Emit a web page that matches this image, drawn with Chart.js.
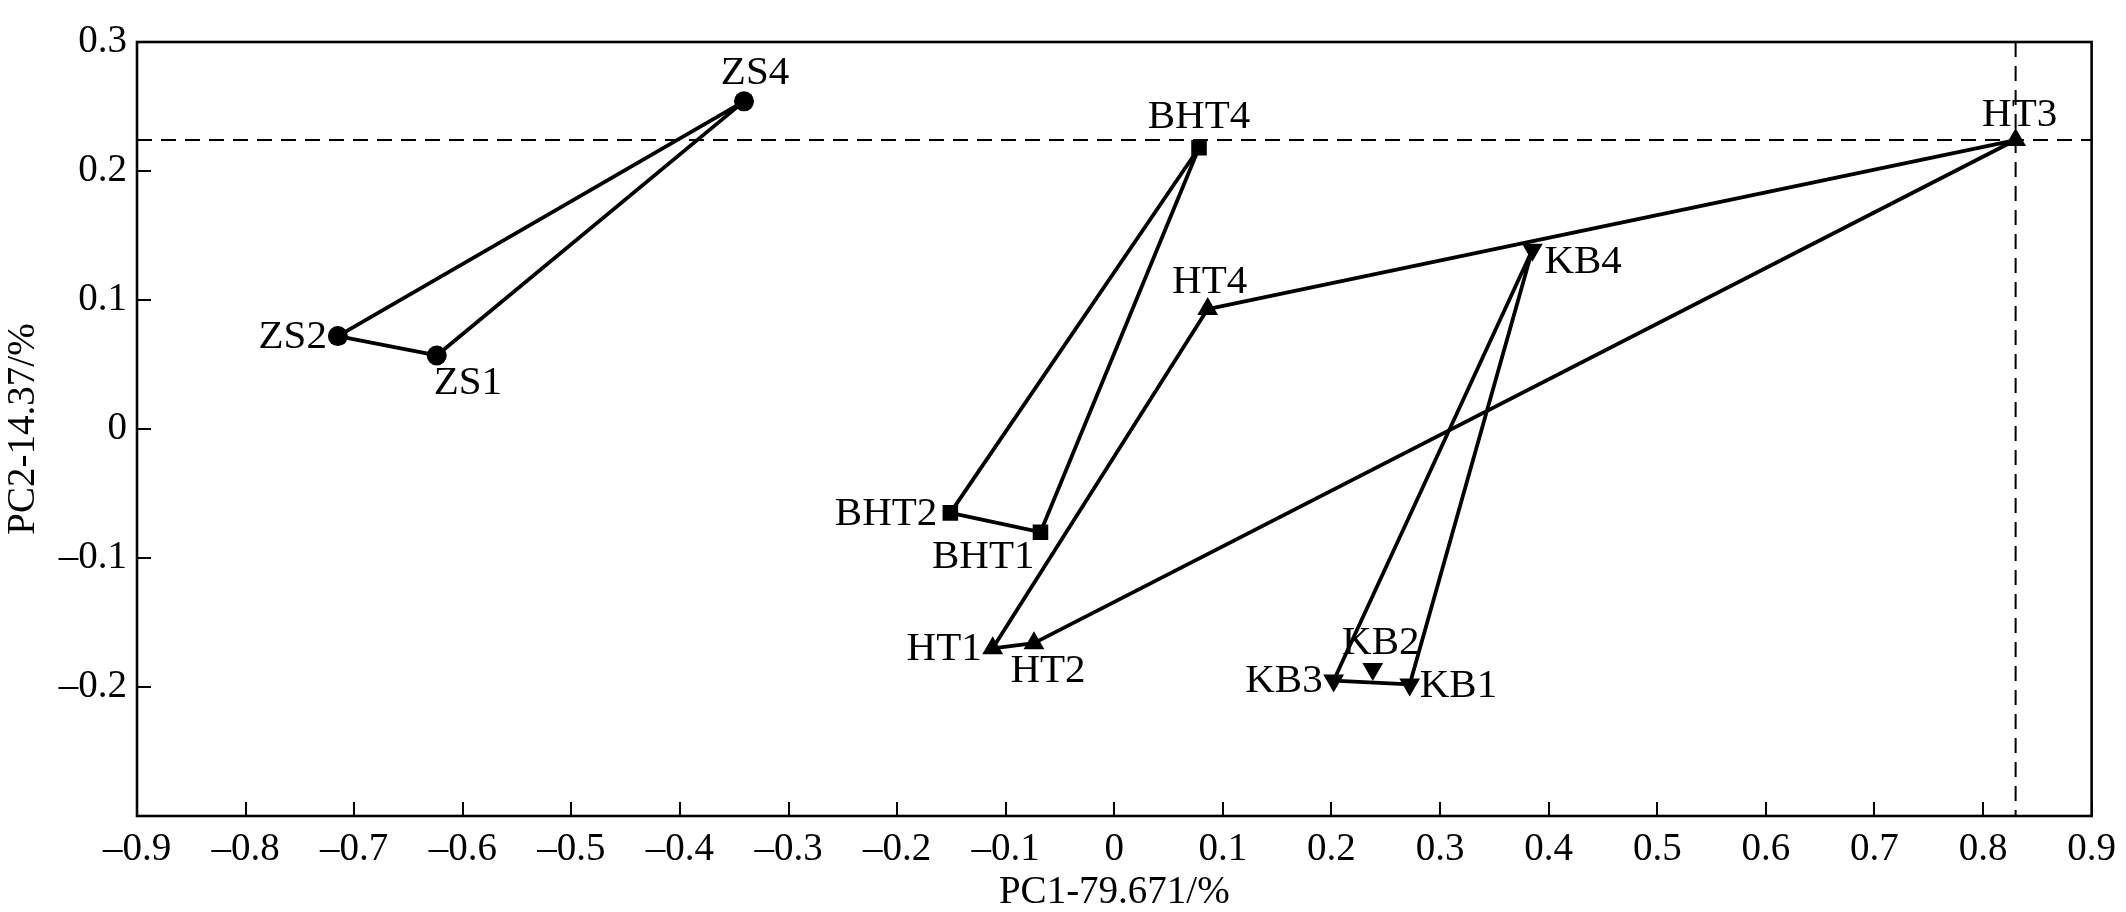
<!DOCTYPE html>
<html>
<head>
<meta charset="utf-8">
<title>PCA</title>
<script src="https://cdn.jsdelivr.net/npm/chart.js@4.4.1/dist/chart.umd.min.js"></script>
<style>
  html, body { margin: 0; padding: 0; background: #fff; }
  canvas { display: block; }
</style>
</head>
<body>
<canvas id="pcaChart" width="2126" height="912"></canvas>
<script>
// Sample scores
const sampleNames = ['ZS1', 'ZS2', 'ZS4', 'BHT1', 'BHT2', 'BHT4', 'HT1', 'HT2', 'HT3', 'HT4', 'KB1', 'KB2', 'KB3', 'KB4'];
const pc1Values = [-0.624, -0.715, -0.341, -0.068, -0.151, 0.078, -0.112, -0.074, 0.830, 0.086, 0.272, 0.238, 0.202, 0.385];
const pc2Values = [0.057, 0.072, 0.254, -0.080, -0.065, 0.218, -0.170, -0.166, 0.224, 0.093, -0.198, -0.186, -0.195, 0.139];

// Connecting polygons for each group (KB2 is not joined)
const zsPath = ['ZS1', 'ZS2', 'ZS4', 'ZS1'];
const bhtPath = ['BHT1', 'BHT2', 'BHT4', 'BHT1'];
const htPath = ['HT1', 'HT2', 'HT3', 'HT4', 'HT1'];
const kbPath = ['KB1', 'KB3', 'KB4', 'KB1'];

const groupNames = ['ZS', 'BHT', 'HT', 'KB'];
const groupPaths = [zsPath, bhtPath, htPath, kbPath];

// Axis ranges and titles
const xRange = [-0.9, 0.9];
const yRange = [-0.3, 0.3];
const tickStep = 0.1;
const xTitle = 'PC1-79.671/%';
const yTitle = 'PC2-14.37/%';
// Dashed reference lines go through HT3
const refSample = 'HT3';

// Marker look per group
const markerStyle = {
    ZS: { pointStyle: 'circle', radius: 10, rotation: 0 },
    BHT: { pointStyle: 'rect', radius: 11, rotation: 0 },
    HT: { pointStyle: 'triangle', radius: 12, rotation: 0 },
    KB: { pointStyle: 'triangle', radius: 12, rotation: 180 }
};

// Where each name sits relative to its marker (align, dx, dy in px)
const labelPlacement = {
    ZS1: ['left', -3, 28], ZS2: ['right', -11, 1], ZS4: ['center', 11, -28],
    BHT1: ['right', -6, 25], BHT2: ['right', -13, 1], BHT4: ['center', 0, -31],
    HT1: ['right', -11, 1], HT2: ['center', 14, 28], HT3: ['center', 4, -25], HT4: ['center', 2, -27],
    KB1: ['left', 10, 2], KB2: ['center', 8, -26], KB3: ['right', -11, 1], KB4: ['left', 12, 13]
};

const FONT = '"Liberation Serif", "Times New Roman", serif';

function pointOf(name) {
    const i = sampleNames.indexOf(name);
    return { x: pc1Values[i], y: pc2Values[i], name };
}

function formatTick(v) {
    const r = Math.round(v * 10) / 10;
    if (Math.abs(r) < 1e-9) return '0';
    return r < 0 ? '\u2013' + Math.abs(r).toFixed(1) : r.toFixed(1);
}

const datasets = [];
groupNames.forEach((g, gi) => {
    const st = markerStyle[g];
    datasets.push({
        label: g,
        data: sampleNames.filter(n => n.replace(/\d+$/, '') === g).map(pointOf),
        showLine: false,
        pointStyle: st.pointStyle,
        pointRadius: st.radius,
        pointRotation: st.rotation,
        pointBackgroundColor: '#000',
        pointBorderColor: '#000',
        pointBorderWidth: 0,
        order: 0
    });
    datasets.push({
        label: g + ' path',
        data: groupPaths[gi].map(pointOf),
        showLine: true,
        borderColor: '#000',
        borderWidth: 3.8,
        borderJoinStyle: 'round',
        pointRadius: 0,
        fill: false,
        tension: 0,
        order: 1
    });
});

const plotDecor = {
    id: 'plotDecor',
    beforeDatasetsDraw(chart) {
        const { ctx, chartArea: a, scales: { x, y } } = chart;
        const ref = pointOf(refSample);
        const px = x.getPixelForValue(ref.x);
        const py = y.getPixelForValue(ref.y);
        ctx.save();
        ctx.strokeStyle = '#000';
        ctx.lineWidth = 2;
        ctx.setLineDash([15, 9]);
        ctx.beginPath();
        ctx.moveTo(a.left, py); ctx.lineTo(a.right, py);
        ctx.moveTo(px, a.top); ctx.lineTo(px, a.bottom);
        ctx.stroke();
        ctx.restore();
    },
    afterDatasetsDraw(chart) {
        const { ctx, scales: { x, y } } = chart;
        ctx.save();
        ctx.fillStyle = '#000';
        ctx.font = '41px ' + FONT;
        ctx.textBaseline = 'middle';
        sampleNames.forEach(n => {
            const p = pointOf(n);
            const [align, dx, dy] = labelPlacement[n];
            ctx.textAlign = align;
            ctx.fillText(n, x.getPixelForValue(p.x) + dx, y.getPixelForValue(p.y) + dy);
        });
        ctx.restore();
    },
    afterDraw(chart) {
        const { ctx, chartArea: a, scales: { x, y } } = chart;
        ctx.save();
        ctx.strokeStyle = '#000';
        ctx.setLineDash([]);
        ctx.lineWidth = 2.6;
        ctx.strokeRect(a.left, a.top, a.right - a.left, a.bottom - a.top);
        // inward tick marks
        ctx.lineWidth = 2;
        ctx.beginPath();
        x.ticks.forEach(t => {
            const px = Math.round(x.getPixelForValue(t.value));
            ctx.moveTo(px, a.bottom); ctx.lineTo(px, a.bottom - 14);
        });
        y.ticks.forEach(t => {
            const py = Math.round(y.getPixelForValue(t.value));
            ctx.moveTo(a.left, py); ctx.lineTo(a.left + 14, py);
        });
        ctx.stroke();
        ctx.restore();
    }
};

new Chart(document.getElementById('pcaChart').getContext('2d'), {
    type: 'scatter',
    data: { datasets },
    options: {
        responsive: false,
        animation: false,
        devicePixelRatio: 1,
        layout: { padding: { top: 42, right: 31, bottom: 0, left: 0 } },
        plugins: { legend: { display: false }, tooltip: { enabled: false } },
        scales: {
            x: {
                type: 'linear',
                min: xRange[0],
                max: xRange[1],
                afterFit: s => { s.height = 96; },
                ticks: {
                    stepSize: tickStep,
                    padding: 10,
                    color: '#000',
                    font: { family: FONT, size: 39 },
                    maxRotation: 0,
                    autoSkip: false,
                    callback: v => formatTick(v)
                },
                grid: { drawOnChartArea: false, drawTicks: false },
                border: { display: false },
                title: {
                    display: true,
                    text: xTitle,
                    color: '#000',
                    padding: 0,
                    font: { family: FONT, size: 39, lineHeight: 1 }
                }
            },
            y: {
                type: 'linear',
                min: yRange[0],
                max: yRange[1],
                afterFit: s => { s.width = 137; },
                ticks: {
                    stepSize: tickStep,
                    padding: 10,
                    color: '#000',
                    font: { family: FONT, size: 39 },
                    autoSkip: false,
                    callback: v => (v < yRange[0] + 1e-9 ? '' : formatTick(v))
                },
                grid: { drawOnChartArea: false, drawTicks: false },
                border: { display: false },
                title: {
                    display: true,
                    text: yTitle,
                    color: '#000',
                    padding: 0,
                    font: { family: FONT, size: 39, lineHeight: 1.2 }
                }
            }
        }
    },
    plugins: [plotDecor]
});
</script>
</body>
</html>
